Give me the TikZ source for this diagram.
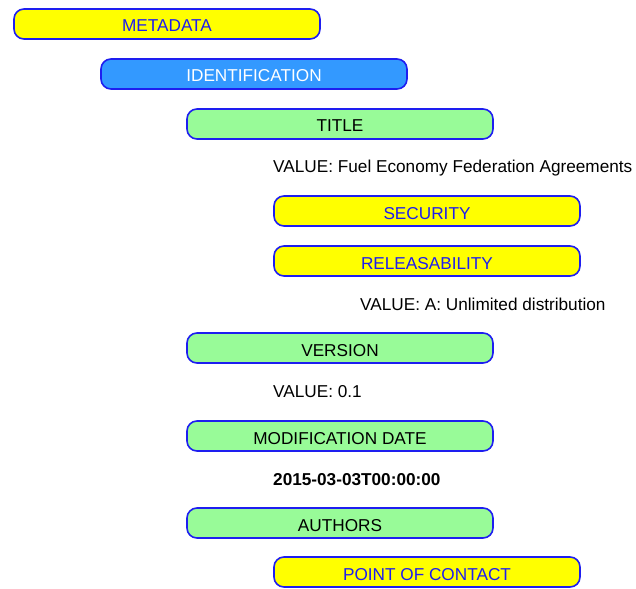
\documentclass[tikz,border=0pt]{standalone}
\usepackage{fontspec}
\setmainfont{Liberation Sans}
\usetikzlibrary{shapes}

\definecolor{boxYellow}{RGB}{255,255,0}
\definecolor{boxBlue}{RGB}{51,153,255}
\definecolor{boxGreen}{RGB}{152,251,152}
\definecolor{edgeBlue}{RGB}{30,30,240}

\begin{document}
\begin{tikzpicture}[x = 1pt, y = -1pt, font=\fontsize{17.2}{20}\selectfont]
	\tikzstyle{boxStyle} = [shape = rectangle, rounded corners = 10pt, minimum width = 306pt, minimum height = 30pt, inner sep = 0pt, text height = 16pt, text depth = 0pt, draw = edgeBlue, line width = 1.6pt]
	\tikzstyle{yellowStyle} = [boxStyle, fill = boxYellow, text = edgeBlue]
	\tikzstyle{blueStyle} = [boxStyle, fill = boxBlue, text = white]
	\tikzstyle{greenStyle} = [boxStyle, fill = boxGreen, text = black]
	\tikzstyle{valueStyle} = [anchor = west, inner sep = 0pt, text = black]
	\useasboundingbox (0,0) rectangle (636,588);
	\node[yellowStyle] (metadata) at (167, 24) {METADATA};
	\node[blueStyle] (identification) at (254, 74) {IDENTIFICATION};
	\node[greenStyle] (title) at (340, 124) {TITLE};
	\node[valueStyle] (titlevalue) at (273, 168) {VALUE: Fuel Economy Federation Agreements};
	\node[yellowStyle] (security) at (427, 211) {SECURITY};
	\node[yellowStyle] (releasability) at (427, 261) {RELEASABILITY};
	\node[valueStyle] (releasvalue) at (360, 304) {VALUE: A: Unlimited distribution};
	\node[greenStyle] (version) at (340, 348) {VERSION};
	\node[valueStyle] (versionvalue) at (273, 392) {VALUE: 0.1};
	\node[greenStyle] (moddate) at (340, 436) {MODIFICATION DATE};
	\node[valueStyle, font = \fontsize{17.2}{20}\selectfont\bfseries] (datevalue) at (273, 480) {2015-03-03T00:00:00};
	\node[greenStyle] (authors) at (340, 523) {AUTHORS};
	\node[yellowStyle] (contact) at (427, 572) {POINT OF CONTACT};
\end{tikzpicture}
\end{document}
